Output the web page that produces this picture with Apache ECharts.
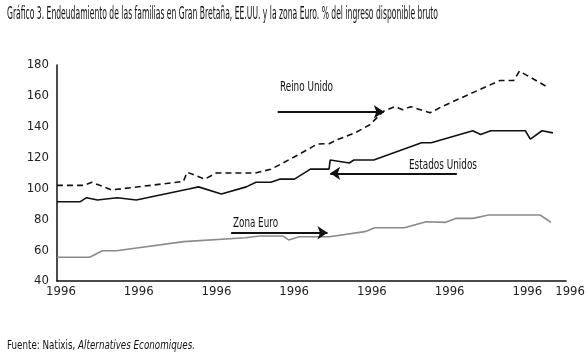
<!DOCTYPE html>
<html>
<head>
<meta charset="utf-8">
<script src="https://cdn.jsdelivr.net/npm/echarts@6.0.0/dist/echarts.min.js"></script>
<style>
  html, body { margin: 0; padding: 0; background: #fff; }
  #chart { width: 588px; height: 359px; }
</style>
</head>
<body>
<div id="chart"></div>
<script>
// periods along the x axis (0 = first observation); every label reads 1996 in the source
const xTickLabel = '1996';

const ukX = [0, 7, 9, 14, 32.5, 33.5, 38, 41, 51, 55, 58, 62, 67, 70, 72, 76.7, 80.5, 84, 87, 89, 91, 96, 99, 114, 117.5, 119, 126];
const ukY = [102, 102, 104, 99, 104.5, 110.5, 106, 110, 110, 112.4, 116.3, 121.7, 128.8, 129, 131.5, 136, 141.3, 150, 153, 151, 153, 149, 153, 170, 170, 176, 166];

const usX = [0, 6, 7.6, 10.4, 15.5, 20.4, 33.9, 36.4, 42.3, 48.7, 51.2, 55, 57.3, 61.1, 65.2, 70, 70.3, 75.2, 76.4, 81.5, 93.8, 96.3, 107, 109, 111.6, 120.5, 121.8, 124.8, 127.6];
const usY = [91.4, 91.4, 94, 92.5, 94, 92.5, 99.6, 101, 96.4, 101, 104, 104, 106, 106, 112.5, 112.5, 118.4, 116.5, 118.4, 118.4, 129.6, 129.6, 137.4, 135, 137.4, 137.4, 132, 137.4, 136];

const euX = [0, 8.4, 11.7, 15.3, 32.6, 48.4, 52.2, 58.1, 59.6, 62.4, 70.1, 79.2, 81.8, 89.4, 95, 100, 102.7, 107, 111.1, 124.3, 127.1];
const euY = [55.4, 55.4, 59.6, 59.6, 65.5, 68, 69.2, 69.2, 66.6, 68.7, 68.7, 72, 74.5, 74.5, 78.4, 78, 80.6, 80.6, 82.8, 82.8, 78];

// annotation arrows: [x start, x end, y] in data units, head at the end
const ukArrow = [56.8, 84.1, 149.7];
const usArrow = [102.9, 70.3, 109.8];
const euArrow = [44.8, 69.6, 71.3];

const pairs = (xs, ys) => xs.map((x, i) => [x, ys[i]]);
const arrow = (a) => ({
  silent: true,
  label: { show: false },
  lineStyle: { color: '#111', width: 2, type: 'solid' },
  data: [[
    { coord: [a[0], a[2]], symbol: 'none' },
    { coord: [a[1], a[2]], symbol: 'arrow', symbolSize: 10 },
  ]],
});

const font = '"Liberation Sans Narrow", "DejaVu Sans Condensed", "Arial Narrow", "Liberation Sans", sans-serif';

// the source uses a condensed face; squeeze a normal face to the same width
const ctx = document.createElement('canvas').getContext('2d');
const measure = (text, f) => { ctx.font = f; return ctx.measureText(text).width; };
const squeezed = (text, f, x, y, width) => ({
  type: 'text', x: x, y: y,
  scaleX: width / measure(text, f),
  style: { text: text, font: f, fill: '#111', verticalAlign: 'middle' },
});

const titleText = 'Gráfico 3. Endeudamiento de las familias en Gran Bretaña, EE.UU. y la zona Euro. % del ingreso disponible bruto';
const srcA = 'Fuente: Natixis, ';
const srcB = 'Alternatives Economiques.';
const srcFont = '13px ' + font;
const srcItalic = 'italic 13px ' + font;

const option = {
  backgroundColor: '#fff',
  animation: false,
  grid: { left: 57, right: 16, top: 65, bottom: 78 },
  xAxis: {
    type: 'value',
    min: 0,
    max: 131,
    interval: 20,
    axisLine: { lineStyle: { color: '#111', width: 1.5 } },
    axisTick: { show: false },
    splitLine: { show: false },
    axisLabel: {
      showMaxLabel: true,
      color: '#222',
      fontFamily: font,
      fontSize: 13,
      margin: 4,
      padding: [0, 0, 0, 8],
      formatter: () => xTickLabel,
    },
  },
  yAxis: {
    type: 'value',
    min: 40,
    max: 180,
    interval: 20,
    axisLine: { show: true, lineStyle: { color: '#111', width: 1.5 } },
    axisTick: { show: false },
    splitLine: { show: false },
    axisLabel: { color: '#222', fontFamily: font, fontSize: 13, margin: 8 },
  },
  series: [
    {
      name: 'Reino Unido',
      type: 'line',
      showSymbol: false,
      data: pairs(ukX, ukY),
      lineStyle: { color: '#111', width: 1.6, type: [6, 4] },
      markLine: arrow(ukArrow),
    },
    {
      name: 'Estados Unidos',
      type: 'line',
      showSymbol: false,
      data: pairs(usX, usY),
      lineStyle: { color: '#111', width: 1.6 },
      markLine: arrow(usArrow),
    },
    {
      name: 'Zona Euro',
      type: 'line',
      showSymbol: false,
      data: pairs(euX, euY),
      lineStyle: { color: '#8a8a8a', width: 1.6 },
      markLine: arrow(euArrow),
    },
  ],
  graphic: [
    squeezed(titleText, '17px ' + font, 7, 15, 431),
    squeezed('Reino Unido', '14px ' + font, 280, 87, 53),
    squeezed('Estados Unidos', '14px ' + font, 409, 165, 68),
    squeezed('Zona Euro', '14px ' + font, 233, 223, 45),
    {
      type: 'text', x: 7, y: 346,
      scaleX: 188 / (measure(srcA, srcFont) + measure(srcB, srcItalic)),
      style: {
        text: '{a|' + srcA + '}{b|' + srcB + '}',
        verticalAlign: 'middle',
        rich: {
          a: { font: srcFont, fill: '#111' },
          b: { font: srcItalic, fill: '#111' },
        },
      },
    },
  ],
};

const chart = echarts.init(document.getElementById('chart'));
chart.setOption(option);
</script>
</body>
</html>
